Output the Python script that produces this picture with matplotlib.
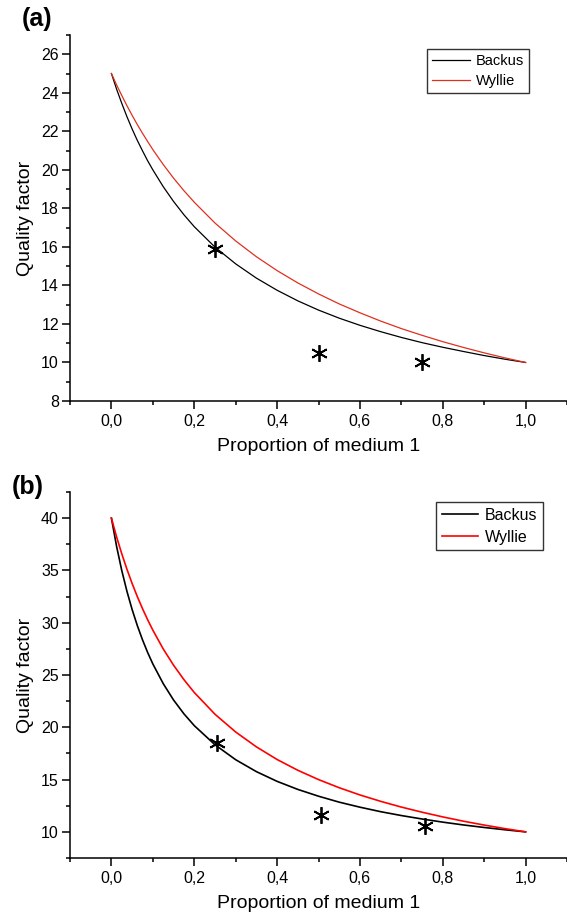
import matplotlib
matplotlib.use("Agg")
import matplotlib.pyplot as plt
from matplotlib.ticker import MultipleLocator

plt.rcParams['font.family'] = ['Liberation Sans', 'DejaVu Sans']

# ---------------- data ----------------
prop = [0.0, 0.0125, 0.025, 0.0375, 0.05, 0.0625, 0.075, 0.0875, 0.1, 0.125,
        0.15, 0.175, 0.2, 0.25, 0.3, 0.35, 0.4, 0.45,
        0.5, 0.55, 0.6, 0.65, 0.7, 0.75, 0.8, 0.85, 0.9, 0.95, 1.0]

backus_a = [25.0, 24.19, 23.45, 22.76, 22.12, 21.53, 20.99, 20.47, 20.00, 19.13,
            18.36, 17.67, 17.05, 15.99, 15.12, 14.38,
            13.75, 13.20, 12.72, 12.30, 11.93, 11.60, 11.30, 11.03, 10.79, 10.57,
            10.36, 10.17, 10.0]
wyllie_a = [25.0, 24.41, 23.86, 23.33, 22.83, 22.35, 21.90, 21.47, 21.05, 20.28,
            19.57, 18.92, 18.32, 17.24, 16.31, 15.49,
            14.77, 14.13, 13.56, 13.04, 12.58, 12.15, 11.76, 11.41, 11.08, 10.78,
            10.50, 10.24, 10.0]
meas_a_x = [0.25, 0.50, 0.75]
meas_a_q = [15.9, 10.5, 10.0]

backus_b = [40.0, 37.30, 34.99, 33.00, 31.26, 29.73, 28.37, 27.15, 26.06, 24.18,
            22.61, 21.29, 20.16, 18.33, 16.90, 15.76,
            14.83, 14.06, 13.41, 12.84, 12.36, 11.93, 11.56, 11.23, 10.93, 10.66,
            10.42, 10.20, 10.0]
wyllie_b = [40.0, 38.21, 36.59, 35.11, 33.75, 32.50, 31.35, 30.28, 29.29, 27.50,
            25.94, 24.56, 23.33, 21.25, 19.55, 18.13,
            16.92, 15.89, 15.00, 14.22, 13.53, 12.92, 12.37, 11.88, 11.43, 11.02,
            10.65, 10.31, 10.0]
meas_b_x = [0.255, 0.507, 0.757]
meas_b_q = [18.5, 11.65, 10.6]

xticks = [0.0, 0.2, 0.4, 0.6, 0.8, 1.0]
xticklabels = ["0,0", "0,2", "0,4", "0,6", "0,8", "1,0"]
yticks_a = [8, 10, 12, 14, 16, 18, 20, 22, 24, 26]
yticks_b = [10, 15, 20, 25, 30, 35, 40]

W, H = 567, 916
fig = plt.figure(figsize=(W / 100, H / 100), dpi=100)


def px_axes(left, top, right, bottom):
    return fig.add_axes([left / W, 1 - bottom / H, (right - left) / W, (bottom - top) / H])


def style(ax, yticks, ylim, yminor, legfs, leghl, legls, legpos):
    ax.set_xlim(-0.1, 1.1)
    ax.set_ylim(*ylim)
    ax.set_xticks(xticks)
    ax.set_xticklabels(xticklabels)
    ax.xaxis.set_minor_locator(MultipleLocator(0.1))
    ax.set_yticks(yticks)
    ax.yaxis.set_minor_locator(MultipleLocator(yminor))
    for s in ['top', 'right']:
        ax.spines[s].set_visible(False)
    for s in ['left', 'bottom']:
        ax.spines[s].set_linewidth(1.1)
    ax.tick_params(which='major', direction='out', length=5.5, width=1.1,
                   labelsize=11.5)
    ax.tick_params(which='minor', direction='out', length=3, width=1.1)
    ax.tick_params(axis='x', which='major', pad=4)
    ax.tick_params(axis='y', which='major', pad=2.5)
    ax.set_xlabel("Proportion of medium 1", fontsize=14, labelpad=6)
    ax.set_ylabel("Quality factor", fontsize=14, labelpad=5)
    leg = ax.legend(loc='upper left', bbox_to_anchor=legpos, fontsize=legfs,
                    frameon=True, fancybox=False, edgecolor='black',
                    handlelength=leghl, handletextpad=0.4, borderpad=0.35,
                    labelspacing=legls, borderaxespad=0)
    leg.get_frame().set_linewidth(1.0)


# ---------------- panel (a) ----------------
ax1 = px_axes(70, 35, 567, 401)
ax1.plot(prop, backus_a, color='black', lw=0.9, label='Backus')
ax1.plot(prop, wyllie_a, color='#e0301e', lw=0.9, label='Wyllie')
ax1.plot(meas_a_x, meas_a_q, linestyle='none', marker=(6, 2, 0), ms=12,
         mew=1.3, color='black')
style(ax1, yticks_a, (8, 27), 1, 10.5, 2.6, 0.4,
      ((427 - 70) / (567 - 70), 1 - (49 - 35) / (401 - 35)))
fig.text(22 / W, 1 - 19 / H, "(a)", fontsize=18, fontweight='bold', va='center', ha='left')

# ---------------- panel (b) ----------------
ax2 = px_axes(70, 492, 567, 858)
ax2.plot(prop, backus_b, color='black', lw=1.2, label='Backus')
ax2.plot(prop, wyllie_b, color='#ff0000', lw=1.2, label='Wyllie')
ax2.plot(meas_b_x, meas_b_q, linestyle='none', marker=(6, 2, 0), ms=12,
         mew=1.3, color='black')
style(ax2, yticks_b, (7.5, 42.5), 2.5, 11.5, 2.3, 0.45,
      ((436 - 70) / (567 - 70), 1 - (502 - 492) / (858 - 492)))
fig.text(12 / W, 1 - 487 / H, "(b)", fontsize=18, fontweight='bold', va='center', ha='left')

fig.savefig("out.png", dpi=100)
